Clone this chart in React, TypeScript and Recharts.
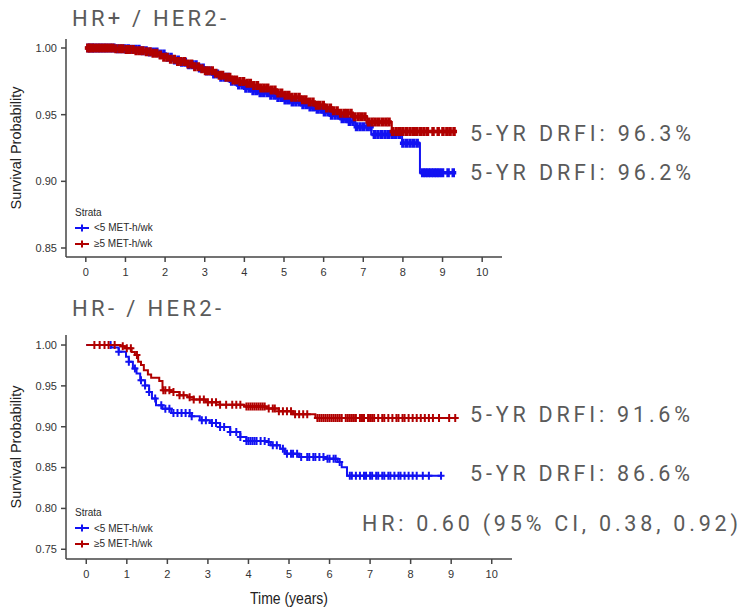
import { Legend, Line, LineChart, XAxis, YAxis } from "recharts";

const BLUE = "#1212f2";
const RED = "#b00000";
const STRATA = ["<5 MET-h/wk", "≥5 MET-h/wk"];
const STRATA_COLORS = [BLUE, RED];
const YEAR_TICKS = [0, 1, 2, 3, 4, 5, 6, 7, 8, 9, 10];
const TOP_Y_TICKS = [0.85, 0.9, 0.95, 1.0];
const BOTTOM_Y_TICKS = [0.75, 0.8, 0.85, 0.9, 0.95, 1.0];

// HR+ / HER2-  — KM steps as [years, survival], censor marks as years
const posLowSteps: [number, number][] = [
  [0, 1], [0.8, 0.9995], [1.1, 0.999], [1.4, 0.998], [1.6, 0.997], [1.8, 0.9955], [2.0, 0.993],
  [2.2, 0.991], [2.4, 0.9893], [2.6, 0.9875], [2.8, 0.985], [3.0, 0.9828], [3.2, 0.9805], [3.4, 0.978],
  [3.6, 0.975], [3.8, 0.9722], [4.0, 0.9698], [4.2, 0.968], [4.4, 0.9665], [4.6, 0.9645], [4.8, 0.9628],
  [5.0, 0.961], [5.2, 0.9595], [5.4, 0.9575], [5.6, 0.9558], [5.8, 0.954], [6.0, 0.952], [6.2, 0.9495],
  [6.4, 0.947], [6.6, 0.9448], [6.8, 0.941], [7.2, 0.9352], [7.98, 0.9285], [8.43, 0.9065],
];
const posLowCensor = [
  0.06, 0.13, 0.2, 0.28, 0.36, 0.44, 0.53, 0.62, 0.71, 0.8, 0.89, 0.98, 1.07, 1.16, 1.25, 1.34, 1.43,
  1.52, 1.61, 1.7, 1.79, 1.88, 1.97, 2.06, 2.15, 2.24, 2.33, 2.42, 2.51, 2.6, 2.69, 2.78, 2.87, 2.96,
  3.05, 3.14, 3.23, 3.32, 3.41, 3.5, 3.59, 3.68, 3.77, 3.86, 3.95, 4.04, 4.13, 4.22, 4.31, 4.4, 4.49,
  4.58, 4.67, 4.76, 4.85, 4.94, 5.03, 5.12, 5.21, 5.3, 5.39, 5.48, 5.57, 5.66, 5.75, 5.84, 5.93, 6.02,
  6.11, 6.2, 6.29, 6.38, 6.47, 6.56, 6.65, 6.74, 6.83, 6.92, 7.01, 7.1, 7.19, 7.28, 7.37, 7.46, 7.55,
  7.64, 7.73, 7.82, 7.91, 8.0, 8.09, 8.18, 8.27, 8.36, 8.5, 8.57, 8.64, 8.71, 8.78, 8.85, 8.92, 9.0,
  9.14, 9.27,
];
const posHighSteps: [number, number][] = [
  [0, 1], [0.7, 0.9995], [0.95, 0.9988], [1.2, 0.998], [1.45, 0.9972], [1.65, 0.996], [1.8, 0.9948],
  [1.95, 0.993], [2.1, 0.9915], [2.3, 0.9898], [2.5, 0.988], [2.7, 0.986], [2.85, 0.9845], [3.0, 0.983],
  [3.2, 0.981], [3.35, 0.9795], [3.5, 0.978], [3.7, 0.976], [3.85, 0.9748], [4.0, 0.9735], [4.2, 0.9718],
  [4.4, 0.97], [4.6, 0.9685], [4.8, 0.9662], [5.0, 0.9645], [5.2, 0.963], [5.4, 0.9612], [5.6, 0.9595],
  [5.8, 0.957], [6.0, 0.955], [6.2, 0.953], [6.4, 0.951], [6.7, 0.9485], [7.1, 0.9445], [7.72, 0.9373],
];
const posHighCensor = [
  0.05, 0.1, 0.16, 0.22, 0.3, 0.37, 0.45, 0.52, 0.6, 0.68, 0.76, 0.85, 0.93, 1.02, 1.1, 1.19, 1.27,
  1.36, 1.44, 1.53, 1.62, 1.7, 1.79, 1.88, 1.97, 2.05, 2.14, 2.23, 2.32, 2.4, 2.49, 2.58, 2.67, 2.75,
  2.84, 2.93, 3.02, 3.1, 3.19, 3.28, 3.37, 3.45, 3.54, 3.63, 3.72, 3.8, 3.89, 3.98, 4.07, 4.15, 4.24,
  4.33, 4.42, 4.5, 4.59, 4.68, 4.77, 4.85, 4.94, 5.03, 5.12, 5.2, 5.29, 5.38, 5.47, 5.55, 5.64, 5.73,
  5.82, 5.9, 5.99, 6.08, 6.17, 6.25, 6.34, 6.43, 6.52, 6.6, 6.69, 6.78, 6.87, 6.95, 7.04, 7.13, 7.22,
  7.3, 7.39, 7.48, 7.57, 7.65, 7.74, 7.83, 7.92, 8.0, 8.09, 8.18, 8.27, 8.35, 8.44, 8.53, 8.62, 8.76,
  8.89, 9.01, 9.11, 9.19, 9.29,
];

// HR- / HER2-
const negLowSteps: [number, number][] = [
  [0, 1], [0.62, 0.997], [0.8, 0.9918], [0.98, 0.9857], [1.05, 0.9795], [1.15, 0.9713], [1.24, 0.9652],
  [1.33, 0.957], [1.45, 0.9505], [1.55, 0.9425], [1.62, 0.9345], [1.72, 0.9263], [1.88, 0.922],
  [2.1, 0.9168], [2.6, 0.9128], [2.8, 0.908], [3.05, 0.9046], [3.3, 0.8997], [3.55, 0.8935],
  [3.8, 0.8874], [3.95, 0.8825], [4.45, 0.8813], [4.55, 0.8772], [4.78, 0.873], [4.9, 0.867],
  [5.25, 0.8628], [5.9, 0.8608], [6.2, 0.8567], [6.3, 0.8505], [6.43, 0.84],
];
const negLowCensor = [
  0.6, 0.8, 1.05, 1.2, 1.35, 1.45, 1.55, 1.7, 1.85, 1.95, 2.05, 2.15, 2.25, 2.35, 2.45, 2.55, 2.6,
  2.85, 2.95, 3.1, 3.2, 3.3, 3.4, 3.55, 3.7, 3.8, 3.95, 4.0, 4.05, 4.1, 4.15, 4.2, 4.3, 4.4, 4.5, 4.6,
  4.7, 4.85, 4.95, 5.05, 5.1, 5.2, 5.3, 5.45, 5.5, 5.6, 5.65, 5.75, 5.85, 5.95, 6.0, 6.1, 6.15, 6.25,
  6.5, 6.55, 6.65, 6.75, 6.85, 6.9, 7.0, 7.05, 7.15, 7.2, 7.3, 7.35, 7.45, 7.5, 7.6, 7.7, 7.75, 7.85,
  7.95, 8.05, 8.15, 8.3, 8.45, 8.75,
];
const negHighSteps: [number, number][] = [
  [0, 1], [0.85, 0.9985], [0.95, 0.996], [1.12, 0.9915], [1.2, 0.9877], [1.28, 0.9795], [1.35, 0.9754],
  [1.42, 0.969], [1.52, 0.964], [1.6, 0.96], [1.8, 0.956], [1.88, 0.9447], [2.1, 0.9425], [2.3, 0.9386],
  [2.5, 0.936], [2.65, 0.9333], [2.95, 0.93], [3.3, 0.927], [3.9, 0.9247], [4.45, 0.9222], [4.75, 0.919],
  [5.1, 0.9152], [5.65, 0.9107],
];
const negHighCensor = [
  0.2, 0.33, 0.45, 0.55, 0.7, 0.9, 1.0, 1.1, 1.25, 1.9, 1.95, 2.05, 2.15, 2.3, 2.4, 2.55, 2.65, 2.8,
  2.9, 3.0, 3.1, 3.2, 3.3, 3.45, 3.6, 3.7, 3.8, 3.95, 4.0, 4.05, 4.1, 4.15, 4.2, 4.25, 4.3, 4.35, 4.4,
  4.5, 4.6, 4.65, 4.75, 4.85, 4.95, 5.05, 5.15, 5.25, 5.35, 5.45, 5.7, 5.75, 5.8, 5.85, 5.9, 5.95, 6.0,
  6.05, 6.1, 6.15, 6.2, 6.25, 6.3, 6.4, 6.45, 6.5, 6.55, 6.6, 6.65, 6.75, 6.8, 6.85, 6.95, 7.0, 7.05,
  7.1, 7.2, 7.3, 7.35, 7.45, 7.55, 7.65, 7.7, 7.8, 7.85, 7.95, 8.05, 8.15, 8.25, 8.35, 8.45, 8.55, 8.7,
  8.95, 9.1,
];

type Row = { t: number; s: number; c: number };

// step rows plus a row for each censored subject, sitting on the current step
function kmRows(steps: [number, number][], censor: number[]): Row[] {
  const rows: Row[] = steps.map(([t, s]) => ({ t, s, c: 0 }));
  for (const t of censor) {
    let s = steps[0][1];
    for (const [st, sv] of steps) if (st <= t) s = sv;
    rows.push({ t, s, c: 1 });
  }
  return rows.sort((a, b) => a.t - b.t || a.c - b.c);
}

function censorDot(color: string, half: number, arm: number, width: number) {
  return (props: any) => {
    const { cx, cy, payload, index } = props;
    if (!payload || !payload.c || cx == null || cy == null) return <g key={`n${index}`} />;
    return (
      <path
        key={`c${index}`}
        d={`M${cx - arm},${cy}h${arm * 2}M${cx},${cy - half}v${half * 2}`}
        stroke={color}
        strokeWidth={width}
        fill="none"
      />
    );
  };
}

const FONT = "'Liberation Sans', Arial, sans-serif";
const AXIS = "#454545";

type PanelProps = {
  top: number;
  width: number;
  height: number;
  plotRight: number;
  marginTop: number;
  xAxisHeight: number;
  yDomain: [number, number];
  yTicks: number[];
  low: Row[];
  high: Row[];
  mark: [number, number, number];
  legendTop: number;
  legendRow: number;
  xTitle?: string;
};

function StrataLegend({ row }: { row: number }) {
  return (
    <div style={{ fontFamily: FONT, fontSize: 10, lineHeight: `${row}px`, color: "#2a2a2a", whiteSpace: "nowrap" }}>
      <div>Strata</div>
      {STRATA.map((name, i) => (
        <div key={name} style={{ display: "flex", alignItems: "center" }}>
          <svg width={14} height={8} style={{ marginRight: 5 }}>
            <path d="M0,4h14M7,0.5v7" stroke={STRATA_COLORS[i]} strokeWidth={2} fill="none" />
          </svg>
          <span>{name}</span>
        </div>
      ))}
    </div>
  );
}

function KMPanel(p: PanelProps) {
  const plotMid = p.marginTop + (p.height - p.marginTop - p.xAxisHeight) / 2;
  return (
    <div style={{ position: "absolute", left: 0, top: p.top }}>
      <LineChart
        width={p.width}
        height={p.height}
        margin={{ top: p.marginTop, right: p.width - p.plotRight, bottom: 0, left: 0 }}
        style={{ fontFamily: FONT }}
      >
        <XAxis
          dataKey="t"
          type="number"
          domain={[-0.5, 10.5]}
          ticks={YEAR_TICKS}
          allowDataOverflow
          height={p.xAxisHeight}
          tickSize={5}
          tickMargin={6}
          tick={{ fontSize: 11, fill: "#333" }}
          stroke={AXIS}
          strokeWidth={1.5}
          label={
            p.xTitle
              ? {
                  content: () => (
                    <text
                      x={289}
                      y={313.5}
                      textAnchor="middle"
                      fontSize={16}
                      fill="#222"
                      textLength={78}
                      lengthAdjust="spacingAndGlyphs"
                    >
                      {p.xTitle}
                    </text>
                  ),
                }
              : undefined
          }
        />
        <YAxis
          type="number"
          domain={p.yDomain}
          ticks={p.yTicks}
          allowDataOverflow
          width={66}
          tickSize={5}
          tickMargin={4}
          tickFormatter={(v: number) => v.toFixed(2)}
          tick={{ fontSize: 11, fill: "#333" }}
          stroke={AXIS}
          strokeWidth={1.5}
          label={{
            content: () => (
              <text
                x={21}
                y={plotMid}
                transform={`rotate(-90 21 ${plotMid})`}
                textAnchor="middle"
                fontSize={14}
                fill="#222"
                textLength={123}
                lengthAdjust="spacingAndGlyphs"
              >
                Survival Probability
              </text>
            ),
          }}
        />
        <Legend
          layout="horizontal"
          verticalAlign="middle"
          align="center"
          wrapperStyle={{ left: 75, top: p.legendTop, width: 160, height: p.legendRow * 3 }}
          content={() => <StrataLegend row={p.legendRow} />}
        />
        <Line
          data={p.low}
          dataKey="s"
          name={STRATA[0]}
          type="stepAfter"
          stroke={BLUE}
          strokeWidth={2}
          dot={censorDot(BLUE, p.mark[0], p.mark[1], p.mark[2])}
          activeDot={false}
          isAnimationActive={false}
        />
        <Line
          data={p.high}
          dataKey="s"
          name={STRATA[1]}
          type="stepAfter"
          stroke={RED}
          strokeWidth={2}
          dot={censorDot(RED, p.mark[0], p.mark[1], p.mark[2])}
          activeDot={false}
          isAnimationActive={false}
        />
      </LineChart>
    </div>
  );
}

const NOTES: { text: string; x: number; y: number; w: number; size: number }[] = [
  { text: "HR+ / HER2-", x: 72, y: 26, w: 154, size: 22 },
  { text: "HR- / HER2-", x: 72, y: 316, w: 149, size: 22 },
  { text: "5-YR DRFI: 96.3%", x: 470, y: 141, w: 221, size: 21.5 },
  { text: "5-YR DRFI: 96.2%", x: 470, y: 180, w: 221, size: 21.5 },
  { text: "5-YR DRFI: 91.6%", x: 470, y: 422, w: 220, size: 21.5 },
  { text: "5-YR DRFI: 86.6%", x: 470, y: 481, w: 220, size: 21.5 },
  { text: "HR: 0.60 (95% CI, 0.38, 0.92)", x: 362, y: 531, w: 376, size: 21.5 },
];

export default function App() {
  return (
    <div style={{ position: "absolute", left: 0, top: 0, width: 742, height: 608, background: "#fff", overflow: "hidden" }}>
      <KMPanel
        top={0}
        width={520}
        height={290}
        plotRight={502}
        marginTop={39}
        xAxisHeight={33}
        yDomain={[0.84325, 1.00675]}
        yTicks={TOP_Y_TICKS}
        low={kmRows(posLowSteps, posLowCensor)}
        high={kmRows(posHighSteps, posHighCensor)}
        mark={[4.5, 3, 3.5]}
        legendTop={204.75}
        legendRow={15.5}
      />
      <KMPanel
        top={290}
        width={530}
        height={318}
        plotRight={512}
        marginTop={45}
        xAxisHeight={49}
        yDomain={[0.7381, 1.01227]}
        yTicks={BOTTOM_Y_TICKS}
        low={kmRows(negLowSteps, negLowCensor)}
        high={kmRows(negHighSteps, negHighCensor)}
        mark={[4, 3.5, 2]}
        legendTop={214.8}
        legendRow={15.8}
        xTitle="Time (years)"
      />
      <svg width={742} height={608} style={{ position: "absolute", left: 0, top: 0, pointerEvents: "none" }}>
        {NOTES.map(n => (
          <text
            key={n.text}
            x={n.x}
            y={n.y}
            fontFamily="Roboto, 'Open Sans', sans-serif"
            fontSize={n.size}
            fill="#5a5a5a"
            textLength={n.w}
            lengthAdjust="spacing"
          >
            {n.text}
          </text>
        ))}
      </svg>
    </div>
  );
}
